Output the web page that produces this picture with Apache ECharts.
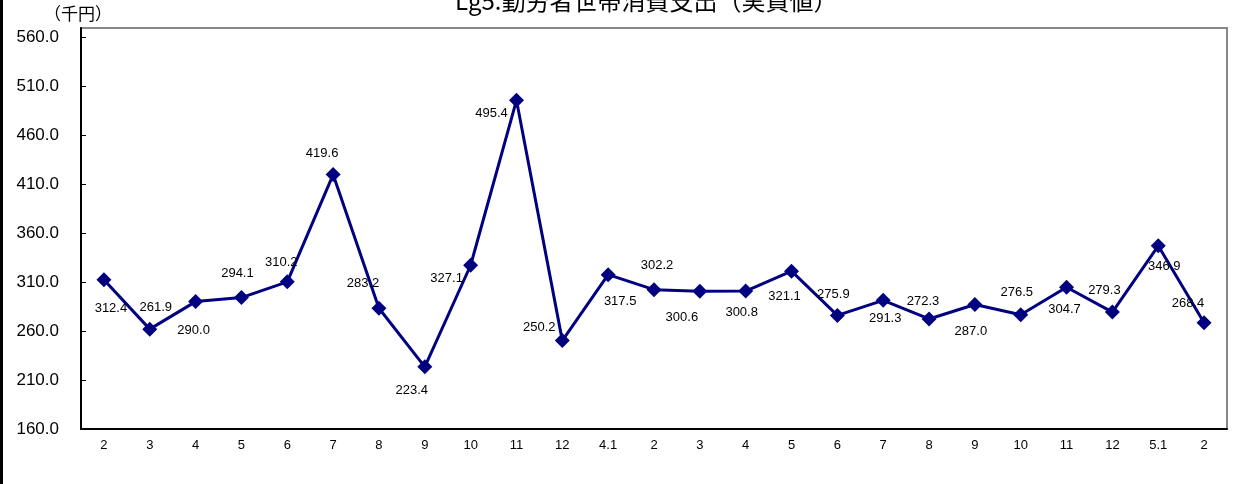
<!DOCTYPE html>
<html><head><meta charset="utf-8">
<script src="https://cdn.jsdelivr.net/npm/echarts@6/dist/echarts.min.js"></script>
<style>html,body{margin:0;padding:0;background:#fff}#c{width:1235px;height:484px}</style>
</head><body><div id="c"></div>
<script>
const titleText = 'Lg5.勤労者世帯消費支出（実質値）';
const unitText = '（千円）';
const categories = ['2','3','4','5','6','7','8','9','10','11','12','4.1','2','3','4','5','6','7','8','9','10','11','12','5.1','2'];
const values = [312.4,261.9,290.0,294.1,310.2,419.6,283.2,223.4,327.1,495.4,250.2,317.5,302.2,300.6,300.8,321.1,275.9,291.3,272.3,287.0,276.5,304.7,279.3,346.9,268.4];
// label offsets (layout only) relative to each marker
const labelOffsets = [[7,29],[6,-22],[-2,29],[-4,-24],[-6,-19],[-11,-21],[-16,-25],[-13,24],[-24,13],[-25,13],[-23,-13],[12,27],[3,-24],[-18,26],[-4,21],[-7,25],[-4,-21],[2,18],[-6,-18],[-4,27],[-4,-22],[-2,22],[-8,-22],[6,21],[-16,-19]];

const chart = echarts.init(document.getElementById('c'), null, {renderer:'canvas'});
const numFont = '"Liberation Sans", Arial, sans-serif';
chart.setOption({
  animation:false,
  backgroundColor:'#fff',
  title:{text:titleText,left:450,top:-16,textStyle:{fontFamily:'"Noto Sans CJK JP"',fontSize:24,fontWeight:'normal',color:'#000'}},
  graphic:[
    {type:'rect',shape:{x:0,y:0,width:3,height:484},style:{fill:'#000'},silent:true},
    {type:'text',left:44,top:5,style:{text:unitText,font:'17px "Noto Sans CJK JP"',fill:'#000'}}
  ],
  grid:{left:81,right:8,top:28,bottom:55,show:true,borderColor:'#888',borderWidth:2,backgroundColor:'#fff'},
  xAxis:{type:'category',data:categories,boundaryGap:true,
    axisLine:{lineStyle:{color:'#000',width:2}},
    axisTick:{inside:true,length:5,lineStyle:{color:'#000',width:1}},
    axisLabel:{fontFamily:numFont,fontSize:13,color:'#000',margin:10,interval:0},
    splitLine:{show:false}},
  yAxis:{type:'value',min:160,max:569.2,interval:50,
    axisLine:{show:true,lineStyle:{color:'#000',width:2}},
    axisTick:{show:true,inside:true,length:5,lineStyle:{color:'#000',width:1}},
    axisLabel:{showMaxLabel:false,fontFamily:numFont,fontSize:17,color:'#000',margin:22,formatter:v=>v.toFixed(1)},
    splitLine:{show:false}},
  series:[{type:'line',data:values.map((v,i)=>({value:v,label:{offset:labelOffsets[i]}})),
    lineStyle:{color:'#000080',width:3},itemStyle:{color:'#000080'},
    symbol:'diamond',symbolSize:15,
    label:{show:true,position:'inside',fontFamily:numFont,fontSize:13,color:'#000',formatter:p=>p.value.toFixed(1)}}]
});
</script></body></html>
